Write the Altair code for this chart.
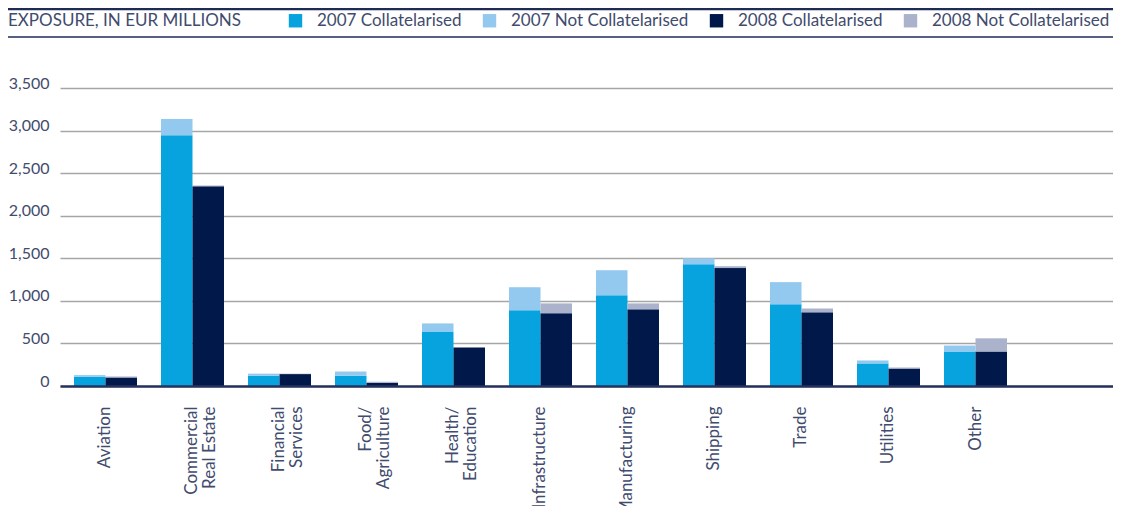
import altair as alt
import pandas as pd

categories = ["Aviation", "Commercial|Real Estate", "Financial|Services", "Food/|Agriculture",
              "Health/|Education", "Infrastructure", "Manufacturing", "Shipping", "Trade",
              "Utilities", "Other"]
coll_2007 = [110, 2945, 120, 120, 640, 890, 1065, 1430, 960, 265, 405]
notcoll_2007 = [18, 190, 25, 50, 95, 270, 295, 70, 260, 35, 70]
coll_2008 = [100, 2345, 140, 38, 452, 855, 900, 1385, 865, 205, 405]
notcoll_2008 = [12, 10, 5, 12, 0, 115, 70, 22, 45, 12, 155]

series = ["2007 Collatelarised", "2007 Not Collatelarised", "2008 Collatelarised", "2008 Not Collatelarised"]
colors = ["#06a3df", "#94c9ef", "#00194a", "#abb3cc"]
legend_heading = "EXPOSURE, IN EUR MILLIONS"

rows = []
for i, c in enumerate(categories):
    rows.append(dict(cat=c, year="2007", series=series[0], order=0, value=coll_2007[i]))
    rows.append(dict(cat=c, year="2007", series=series[1], order=1, value=notcoll_2007[i]))
    rows.append(dict(cat=c, year="2008", series=series[2], order=0, value=coll_2008[i]))
    rows.append(dict(cat=c, year="2008", series=series[3], order=1, value=notcoll_2008[i]))
df = pd.DataFrame(rows)

FONT = "Lato"
TXT = "#414b6e"
W, H = 1058, 298

bars = alt.Chart(df).mark_bar(stroke=None).encode(
    x=alt.X("cat:N", sort=categories,
            scale=alt.Scale(paddingInner=0.2759, paddingOuter=0.7184, align=0.112),
            axis=alt.Axis(title=None, labelAngle=-90, labelAlign="right", labelBaseline="middle",
                          labelPadding=20, ticks=False, labelExpr="split(datum.value, '|')",
                          labelFont=FONT, labelFontSize=17, labelColor=TXT, labelLineHeight=18,
                          domainColor="#26325e", domainWidth=2.5, grid=False, zindex=1)),
    xOffset=alt.XOffset("year:N", scale=alt.Scale(paddingInner=0, paddingOuter=0)),
    y=alt.Y("value:Q", stack="zero",
            scale=alt.Scale(domain=[0, 3500], nice=False),
            axis=alt.Axis(title=None, values=[0, 500, 1000, 1500, 2000, 2500, 3000, 3500],
                          format=",.0f", domain=False, ticks=False, labelPadding=11,
                          labelBaseline="alphabetic", labelFont=FONT, labelFontSize=16,
                          labelColor=TXT, gridColor="#a6a6a6", gridWidth=1.5)),
    color=alt.Color("series:N", scale=alt.Scale(domain=series, range=colors),
                    legend=alt.Legend(title=None, orient="none",
                                      legendX=227, legendY=-76, direction="horizontal",
                                      labelFont=FONT, labelFontSize=17, labelColor=TXT,
                                      labelLimit=400,
                                      symbolType="square", symbolSize=180, symbolStrokeWidth=0,
                                      symbolOpacity=1, labelOffset=13, columnPadding=19)),
    order=alt.Order("order:Q", sort="ascending"),
)

frame = pd.DataFrame({"k": [0]})
heading = alt.Chart(frame).mark_text(
    text=legend_heading, font=FONT, fontSize=17, color=TXT, align="left", baseline="middle"
).encode(x=alt.value(-52), y=alt.value(-67))
top_line = alt.Chart(frame).mark_rule(color="#1f2b57", strokeWidth=2.5).encode(
    x=alt.value(-52), x2=alt.value(W + 2), y=alt.value(-79))
bottom_line = alt.Chart(frame).mark_rule(color="#1f2b57", strokeWidth=1.5).encode(
    x=alt.value(-52), x2=alt.value(W + 2), y=alt.value(-51))

chart = alt.layer(bars, heading, top_line, bottom_line).properties(
    width=W, height=H,
    autosize=alt.AutoSizeParams(type="none"),
    padding={"left": 52, "top": 80, "right": -5, "bottom": 120},
).configure_view(stroke=None)

chart.save("out.html", embed_options={"renderer": "svg", "actions": False})
